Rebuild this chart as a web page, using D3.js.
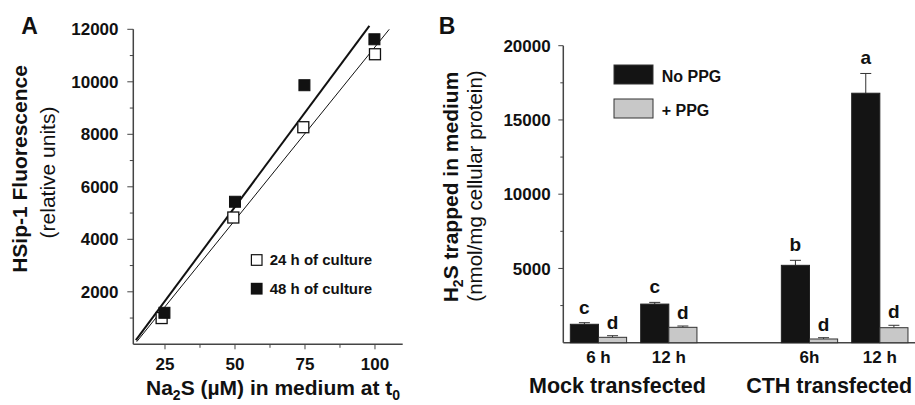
<!DOCTYPE html>
<html><head><meta charset="utf-8">
<script src="https://cdn.jsdelivr.net/npm/d3@7"></script>
<style>
html,body{margin:0;padding:0;background:#fff;}
svg text{font-family:"Liberation Sans",Arial,Helvetica,sans-serif;fill:#111;}
</style></head>
<body>
<svg id="chart" width="915" height="405"></svg>
<script>
// ---------- Panel A data ----------
const conc24 = [23.8, 49.4, 74.4, 100];
const fluo24 = [1000, 4830, 8270, 11050];
const conc48 = [24.8, 50, 74.8, 99.8];
const fluo48 = [1200, 5430, 9870, 11620];
const fit24X = [14.9, 105.1];
const fit24Y = [100, 12000];
const fit48X = [14.6, 98];
const fit48Y = [160, 12130];
const aXTicks = [25, 50, 75, 100];
const aXMinor = [37.5, 62.5, 87.5];
const aYTicks = [2000, 4000, 6000, 8000, 10000, 12000];
const aYMinor = [1000, 3000, 5000, 7000, 9000, 11000];
const aLegend = ["24 h of culture", "48 h of culture"];

// ---------- Panel B data ----------
const timeLabels = ["6 h", "12 h", "6h", "12 h"];
const slots = [0, 1, 3, 4];
const noPPG = [1240, 2600, 5210, 16800];
const noPPGErr = [108, 115, 337, 1330];
const plusPPG = [363, 1036, 250, 1010];
const plusPPGErr = [108, 88, 87, 162];
const lettersNo = ["c", "c", "b", "a"];
const lettersPlus = ["d", "d", "d", "d"];
const groupLabels = ["Mock transfected", "CTH transfected"];
const groupCenters = [0.27, 3.28];
const bYTicks = [5000, 10000, 15000, 20000];
const bYMinor = [2500, 7500, 12500, 17500];
const bLegend = ["No PPG", "+ PPG"];

const svg = d3.select("#chart");
const ink = "#111";

// ================= Panel A =================
const xA = d3.scaleLinear().domain([13.68, 109.9]).range([133.3, 402.7]);
const yA = d3.scaleLinear().domain([0, 12000]).range([344.3, 29.3]);
const gA = svg.append("g");

gA.append("line").attr("x1", xA.range()[0]).attr("x2", xA.range()[0])
  .attr("y1", yA(0)).attr("y2", yA(12000)).attr("stroke", "#444").attr("stroke-width", 1.5);
gA.append("line").attr("x1", xA.range()[0]).attr("x2", xA.range()[1])
  .attr("y1", yA(0)).attr("y2", yA(0)).attr("stroke", "#444").attr("stroke-width", 1.5);

gA.selectAll(".ayt").data(aYTicks).join("line")
  .attr("x1", xA.range()[0] - 6).attr("x2", xA.range()[0])
  .attr("y1", d => yA(d)).attr("y2", d => yA(d)).attr("stroke", "#444");
gA.selectAll(".aym").data(aYMinor).join("line")
  .attr("x1", xA.range()[0] - 3.5).attr("x2", xA.range()[0])
  .attr("y1", d => yA(d)).attr("y2", d => yA(d)).attr("stroke", "#444");
gA.selectAll(".aytl").data(aYTicks).join("text")
  .attr("x", 118.5).attr("y", d => yA(d)).attr("dy", "0.36em")
  .attr("text-anchor", "end").attr("font-size", 17).attr("font-weight", "bold")
  .text(d => d);
gA.selectAll(".axt").data(aXTicks).join("line")
  .attr("x1", d => xA(d)).attr("x2", d => xA(d))
  .attr("y1", yA(0)).attr("y2", yA(0) + 5).attr("stroke", "#444");
gA.selectAll(".axm").data(aXMinor).join("line")
  .attr("x1", d => xA(d)).attr("x2", d => xA(d))
  .attr("y1", yA(0)).attr("y2", yA(0) + 3.5).attr("stroke", "#444");
gA.selectAll(".axtl").data(aXTicks).join("text")
  .attr("x", d => xA(d)).attr("y", 370)
  .attr("text-anchor", "middle").attr("font-size", 17).attr("font-weight", "bold")
  .text(d => d);

const line = d3.line().x(d => xA(d[0])).y(d => yA(d[1]));
gA.append("path").datum(d3.zip(fit24X, fit24Y)).attr("d", line)
  .attr("fill", "none").attr("stroke", ink).attr("stroke-width", 1);
gA.append("path").datum(d3.zip(fit48X, fit48Y)).attr("d", line)
  .attr("fill", "none").attr("stroke", ink).attr("stroke-width", 2);

const ms = 11;
gA.selectAll(".p24").data(d3.zip(conc24, fluo24)).join("rect")
  .attr("x", d => xA(d[0]) - ms / 2).attr("y", d => yA(d[1]) - ms / 2)
  .attr("width", ms).attr("height", ms)
  .attr("fill", "#fff").attr("stroke", ink).attr("stroke-width", 1.3);
gA.selectAll(".p48").data(d3.zip(conc48, fluo48)).join("rect")
  .attr("x", d => xA(d[0]) - ms / 2).attr("y", d => yA(d[1]) - ms / 2)
  .attr("width", ms).attr("height", ms)
  .attr("fill", ink).attr("stroke", ink).attr("stroke-width", 1);

const legA = gA.selectAll(".lega").data(aLegend).join("g")
  .attr("transform", (d, i) => `translate(256.7,${260 + i * 28.7})`);
legA.append("rect").attr("x", -5.3).attr("y", -5.3).attr("width", 10.6).attr("height", 10.6)
  .attr("fill", (d, i) => i ? ink : "#fff").attr("stroke", ink).attr("stroke-width", 1.2);
legA.append("text").attr("x", 13).attr("y", 0).attr("dy", "0.36em")
  .attr("font-size", 15).attr("font-weight", "bold").text(d => d);

gA.append("text").attr("x", 29.5).attr("y", 33.5).attr("text-anchor", "middle")
  .attr("font-size", 23).attr("font-weight", "bold").text("A");
gA.append("text").attr("transform", "translate(27,169) rotate(-90)")
  .attr("text-anchor", "middle").attr("font-size", 21).attr("font-weight", "bold")
  .text("HSip-1 Fluorescence");
gA.append("text").attr("transform", "translate(55,172.5) rotate(-90)")
  .attr("text-anchor", "middle").attr("font-size", 21)
  .text("(relative units)");
const xtA = gA.append("text").attr("x", 273).attr("y", 395).attr("text-anchor", "middle")
  .attr("font-size", 21).attr("font-weight", "bold");
xtA.append("tspan").text("Na");
xtA.append("tspan").attr("dy", 5).attr("font-size", 14).text("2");
xtA.append("tspan").attr("dy", -5).text("S (\u00B5M) in medium at t");
xtA.append("tspan").attr("dy", 5).attr("font-size", 14).text("0");

// ================= Panel B =================
const xB = d3.scaleLinear().domain([-0.5, 4.5]).range([563.3, 915]);
const yB = d3.scaleLinear().domain([0, 20000]).range([342.7, 45.7]);
const gB = svg.append("g");
const bw = xB(0.4) - xB(0);

gB.append("line").attr("x1", xB(-0.5)).attr("x2", xB(-0.5))
  .attr("y1", yB(0)).attr("y2", yB(20000)).attr("stroke", "#444").attr("stroke-width", 1.5);
gB.append("line").attr("x1", xB(-0.5)).attr("x2", xB(4.5))
  .attr("y1", yB(0)).attr("y2", yB(0)).attr("stroke", "#444").attr("stroke-width", 1.5);
gB.selectAll(".byt").data(bYTicks).join("line")
  .attr("x1", xB(-0.5) - 5).attr("x2", xB(-0.5))
  .attr("y1", d => yB(d)).attr("y2", d => yB(d)).attr("stroke", "#444");
gB.selectAll(".bym").data(bYMinor).join("line")
  .attr("x1", xB(-0.5) - 3).attr("x2", xB(-0.5))
  .attr("y1", d => yB(d)).attr("y2", d => yB(d)).attr("stroke", "#444");
gB.selectAll(".bytl").data(bYTicks).join("text")
  .attr("x", 550.7).attr("y", d => yB(d)).attr("dy", "0.36em")
  .attr("text-anchor", "end").attr("font-size", 17).attr("font-weight", "bold")
  .text(d => d);

function errBars(vals, errs, off) {
  const g = gB.append("g");
  g.selectAll("line.v").data(vals).join("line")
    .attr("x1", (d, i) => xB(slots[i] + off)).attr("x2", (d, i) => xB(slots[i] + off))
    .attr("y1", d => yB(d)).attr("y2", (d, i) => yB(d + errs[i]))
    .attr("stroke", "#333").attr("stroke-width", 1);
  g.selectAll("line.c").data(vals).join("line")
    .attr("x1", (d, i) => xB(slots[i] + off) - 5.5).attr("x2", (d, i) => xB(slots[i] + off) + 5.5)
    .attr("y1", (d, i) => yB(d + errs[i])).attr("y2", (d, i) => yB(d + errs[i]))
    .attr("stroke", "#333").attr("stroke-width", 1);
}
errBars(noPPG, noPPGErr, -0.2);
errBars(plusPPG, plusPPGErr, 0.2);

gB.selectAll(".barN").data(noPPG).join("rect")
  .attr("x", (d, i) => xB(slots[i] - 0.4)).attr("width", bw)
  .attr("y", d => yB(d)).attr("height", d => yB(0) - yB(d))
  .attr("fill", "#141414").attr("stroke", "#222").attr("stroke-width", 1);
gB.selectAll(".barP").data(plusPPG).join("rect")
  .attr("x", (d, i) => xB(slots[i])).attr("width", bw)
  .attr("y", d => yB(d)).attr("height", d => yB(0) - yB(d))
  .attr("fill", "#c8c8c8").attr("stroke", "#333").attr("stroke-width", 1);

gB.selectAll(".ln").data(lettersNo).join("text")
  .attr("x", (d, i) => xB(slots[i] - 0.2)).attr("y", (d, i) => yB(noPPG[i] + noPPGErr[i]) - 9)
  .attr("text-anchor", "middle").attr("font-size", 19).attr("font-weight", "bold").text(d => d);
gB.selectAll(".lp").data(lettersPlus).join("text")
  .attr("x", (d, i) => xB(slots[i] + 0.2)).attr("y", (d, i) => yB(plusPPG[i] + plusPPGErr[i]) - 7)
  .attr("text-anchor", "middle").attr("font-size", 19).attr("font-weight", "bold").text(d => d);

gB.selectAll(".tl").data(timeLabels).join("text")
  .attr("x", (d, i) => xB(slots[i])).attr("y", 363.3)
  .attr("text-anchor", "middle").attr("font-size", 17).attr("font-weight", "bold").text(d => d);
gB.selectAll(".gl").data(groupLabels).join("text")
  .attr("x", (d, i) => xB(groupCenters[i])).attr("y", 393.3)
  .attr("text-anchor", "middle").attr("font-size", 21.5).attr("font-weight", "bold").text(d => d);

const legB = gB.selectAll(".legb").data(bLegend).join("g")
  .attr("transform", (d, i) => `translate(614,${65 + i * 34})`);
legB.append("rect").attr("width", 39).attr("height", 19)
  .attr("fill", (d, i) => i ? "#c8c8c8" : "#141414").attr("stroke", "#333").attr("stroke-width", 1);
legB.append("text").attr("x", 47.7).attr("y", 16.5)
  .attr("font-size", 16).attr("font-weight", "bold").text(d => d);

gB.append("text").attr("x", 447).attr("y", 33.5).attr("text-anchor", "middle")
  .attr("font-size", 23).attr("font-weight", "bold").text("B");
const ytB = gB.append("text").attr("transform", "translate(457.5,187) rotate(-90)")
  .attr("text-anchor", "middle").attr("font-size", 21).attr("font-weight", "bold");
ytB.append("tspan").text("H");
ytB.append("tspan").attr("dy", 5).attr("font-size", 14).text("2");
ytB.append("tspan").attr("dy", -5).text("S trapped in medium");
gB.append("text").attr("transform", "translate(482,186) rotate(-90)")
  .attr("text-anchor", "middle").attr("font-size", 20.5)
  .text("(nmol/mg cellular protein)");
</script>
</body></html>
